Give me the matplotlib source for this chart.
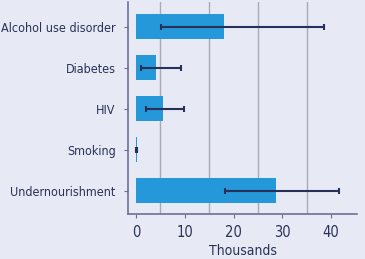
import numpy as np
import matplotlib
matplotlib.use('Agg')
import matplotlib.pyplot as plt
from matplotlib.ticker import FixedLocator

# data (thousands)
categories = ["Alcohol use disorder", "Diabetes", "HIV", "Smoking", "Undernourishment"]
values = [18.0, 4.2, 5.5, 0.15, 28.8]
lower = [5.1, 1.0, 2.0, 0.1, 18.3]
upper = [38.6, 9.3, 9.9, 0.3, 41.7]

plt.rcParams['font.family'] = ['DejaVu Sans']
plt.rcParams['font.stretch'] = 'condensed'
textColor = '#2b3158'
spineColor = '#6c7194'

fig = plt.figure(figsize=(3.65, 2.59), dpi=100)
fig.patch.set_facecolor('#e7eaf4')
ax = fig.add_axes([0.3507, 0.1737, 0.978 - 0.3507, 0.992 - 0.1737])
ax.set_facecolor('none')

index = np.arange(len(categories))
vals = np.array(values)
errLow = vals - np.array(lower)
errHigh = np.array(upper) - vals

ax.barh(index, vals, height=0.6, color='#2498d8', zorder=2)
ax.errorbar(vals, index, xerr=[errLow, errHigh], fmt='none', ecolor='#27305a',
            elinewidth=1.5, capsize=2, capthick=1.5, zorder=3)

ax.set_xlim(-1.64, 45.3)
ax.set_ylim(len(categories) - 0.43, -0.6)
ax.set_yticks(index)
ax.set_yticklabels(categories)
ax.set_xticks([0, 10, 20, 30, 40])
ax.xaxis.set_minor_locator(FixedLocator([5, 15, 25, 35]))
ax.grid(which='minor', axis='x', color='#a9aab3', linewidth=1, zorder=1)
ax.set_axisbelow(True)
ax.tick_params(which='minor', length=0)
ax.tick_params(which='major', length=3, color=spineColor, labelcolor=textColor,
               labelsize=9, pad=6)
ax.tick_params(axis='x', labelsize=10.5, pad=5)

for s in ['top', 'right']:
  ax.spines[s].set_visible(False)
for s in ['left', 'bottom']:
  ax.spines[s].set_color(spineColor)
  ax.spines[s].set_linewidth(1.2)

ax.set_xlabel('Thousands', color=textColor, fontsize=10, labelpad=3)

plt.savefig('out.png', dpi=100, facecolor=fig.get_facecolor())
